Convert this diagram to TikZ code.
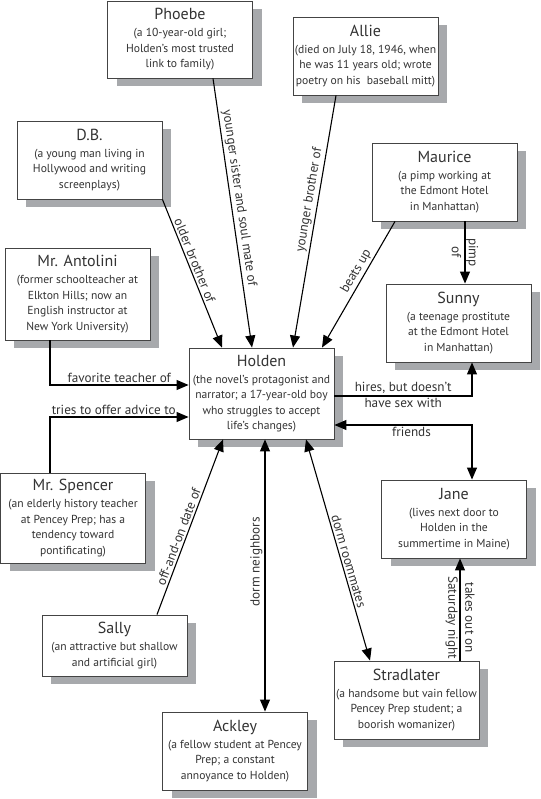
\documentclass[tikz,border=0pt]{standalone}
\usepackage{fontspec}
\setmainfont{PT Sans}
\usetikzlibrary{arrows.meta,shadows,calc}
\definecolor{shadowgray}{HTML}{A7A9AC}
\definecolor{txtgray}{HTML}{333333}
\definecolor{boxline}{HTML}{444444}
\newcommand\boxtitle[1]{{\fontsize{16}{19}\selectfont #1}}
\begin{document}
\begin{tikzpicture}[x=1pt,y=-1pt,
 box/.style={draw=boxline, line width=0.9pt, fill=white, minimum width=145pt, inner xsep=0pt, inner ysep=0pt,
   align=center, text=txtgray, font=\fontsize{11.6}{15.5}\selectfont,
   drop shadow={shadow xshift=9pt, shadow yshift=-8pt, opacity=1, fill=shadowgray}},
 conn/.style={line width=1.1pt, -{Triangle[length=12pt,width=10pt]}},
 conntwo/.style={line width=1.1pt, {Triangle[length=12pt,width=10pt]}-{Triangle[length=12pt,width=10pt]}},
 lbl/.style={font=\fontsize{13.2}{15}\selectfont, text=txtgray, inner sep=2pt},
 lbltwo/.style={font=\fontsize{13.2}{17}\selectfont, text=txtgray, inner sep=0pt, align=center, rotate=-90},
]
\useasboundingbox (0,0) rectangle (540,799);

\node[box, minimum height=77pt] (phoebe) at (180,39.5) {\boxtitle{Phoebe}\\[1.5pt](a 10-year-old girl;\\Holden’s most trusted\\link to family)};
\node[box, minimum height=78pt] (allie) at (365.5,56) {\boxtitle{Allie}\\[1.5pt](died on July 18, 1946, when\\he was 11 years old; wrote\\poetry on his~ baseball mitt)};
\node[box, minimum height=78pt] (db) at (89.5,160) {\boxtitle{D.B.}\\[1.5pt](a young man living in\\Hollywood and writing\\screenplays)};
\node[box, minimum height=78pt] (maurice) at (444.5,182) {\boxtitle{Maurice}\\[1.5pt](a pimp working at\\the Edmont Hotel\\in Manhattan)};
\node[box, minimum height=92pt] (antolini) at (77.5,294) {\boxtitle{Mr. Antolini}\\[1.5pt](former schoolteacher at\\Elkton Hills; now an\\English instructor at\\New York University)};
\node[box, minimum height=78pt] (sunny) at (458.5,323) {\boxtitle{Sunny}\\[1.5pt](a teenage prostitute\\at the Edmont Hotel\\in Manhattan)};
\node[box, minimum height=91pt] (holden) at (261.5,393.5) {\boxtitle{Holden}\\[1.5pt](the novel’s protagonist and\\narrator; a 17-year-old boy\\who struggles to accept\\life’s changes)};
\node[box, minimum height=90pt] (spencer) at (73,518) {\boxtitle{Mr. Spencer}\\[1.5pt](an elderly history teacher\\at Pencey Prep; has a\\tendency toward\\pontificating)};
\node[box, minimum height=78pt] (jane) at (454,519) {\boxtitle{Jane}\\[1.5pt](lives next door to\\Holden in the\\summertime in Maine)};
\node[box, minimum height=61pt] (sally) at (114.5,645.5) {\boxtitle{Sally}\\[1.5pt](an attractive but shallow\\and artificial girl)};
\node[box, minimum height=78pt] (stradlater) at (406.5,700) {\boxtitle{Stradlater}\\[1.5pt](a handsome but vain fellow\\Pencey Prep student; a\\boorish womanizer)};
\node[box, minimum height=78pt] (ackley) at (235,751) {\boxtitle{Ackley}\\[1.5pt](a fellow student at Pencey\\Prep; a constant\\annoyance to Holden)};

% connectors
\draw[conn] ($(phoebe.south)+(33,0)$) -- node[lbl, sloped, above, pos=0.45]{younger sister and soul mate of} ($(holden.north)+(-9.5,0)$);
\draw[conn] (db.south east) -- node[lbl, sloped, above, pos=0.43]{older brother of} ($(holden.north)+(-39.5,0)$);
\draw[conn] ($(allie.south)+(-29.5,0)$) -- node[lbl, sloped, above, pos=0.42]{younger brother of} ($(holden.north)+(31.5,0)$);
\draw[conn] ($(maurice.south)+(-49.5,0)$) -- node[lbl, sloped, above, pos=0.43]{beats up} ($(holden.north)+(60.5,0)$);
\draw[conn] ($(maurice.south)+(20.5,0)$) -- node[lbltwo, pos=0.5]{pimp\\of} ($(sunny.north)+(6.5,0)$);
\draw[conn] ($(antolini.south)+(-27.5,0)$) |- node[lbl, above, pos=0.75]{favorite teacher of} ($(holden.west)+(0,-8.5)$);
\draw[conn] ($(spencer.north)+(-23,0)$) |- node[lbl, above, pos=0.73]{tries to offer advice to} ($(holden.west)+(0,23.5)$);
\draw[conn] ($(holden.east)+(0,2.5)$) -| node[lbl, above, pos=0.25]{hires, but doesn’t} node[lbl, below, pos=0.25]{have sex with} ($(sunny.south)+(13.5,0)$);
\draw[conntwo] ($(holden.east)+(0,31.5)$) -| node[lbl, below, pos=0.28]{friends} ($(jane.north)+(18,0)$);
\draw[conn] ($(sally.north)+(42.5,0)$) -- node[lbl, sloped, above, pos=0.43]{off-and-on date of} ($(holden.south)+(-38.5,0)$);
\draw[conntwo] ($(ackley.north)+(30,0)$) -- node[lbl, sloped, above, pos=0.55]{dorm neighbors} ($(holden.south)+(3.5,0)$);
\draw[conntwo] ($(holden.south)+(44.5,0)$) -- node[lbl, sloped, above, pos=0.56]{dorm roommates} ($(stradlater.north)+(-36.5,0)$);
\draw[conn] ($(stradlater.north)+(53.5,0)$) -- node[lbltwo, pos=0.42]{takes out on\\Saturday night} ($(jane.south)+(6,0)$);
\end{tikzpicture}
\end{document}
